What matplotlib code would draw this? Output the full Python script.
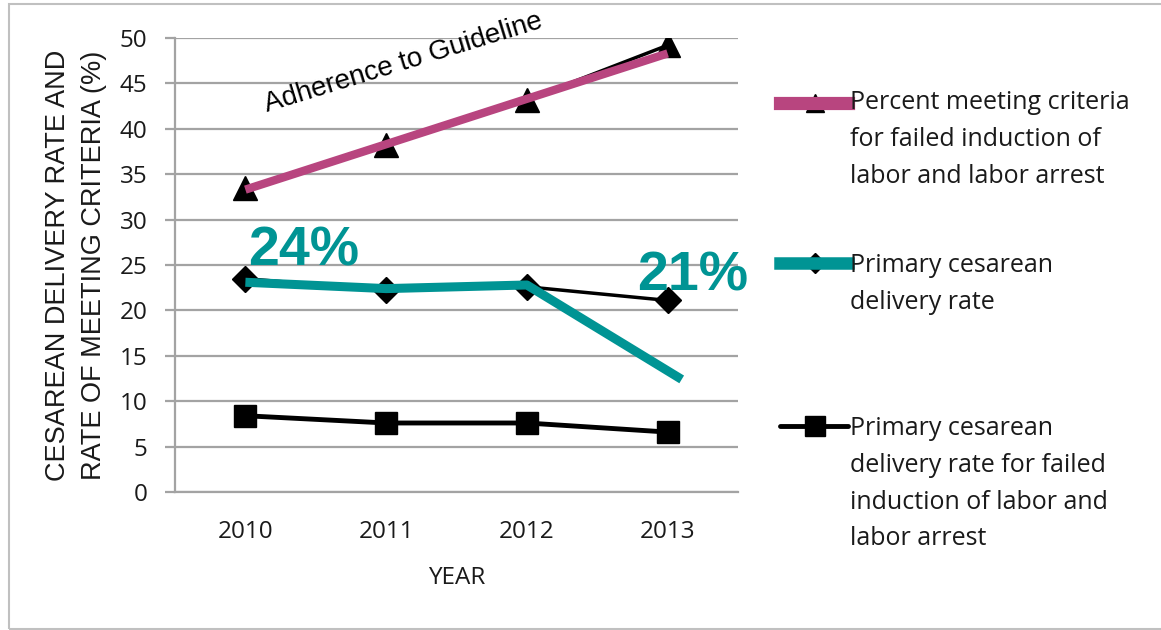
import matplotlib
matplotlib.use('Agg')
import matplotlib.pyplot as plt
from matplotlib.lines import Line2D
from matplotlib.patches import Rectangle

years = ['2010', '2011', '2012', '2013']
pct_meeting = [33.5, 38.2, 43.2, 49.2]
primary_rate = [23.5, 22.2, 22.6, 21.1]
primary_failed = [8.4, 7.6, 7.6, 6.6]

# hand-drawn trend overlays
adherence_x = [0, 3]
adherence_y = [33.3, 48.3]
trend_x = [0, 1, 2, 3.1]
trend_y = [23.1, 22.4, 22.8, 12.4]

legend_labels = ['Percent meeting criteria\nfor failed induction of\nlabor and labor arrest',
                 'Primary cesarean\ndelivery rate',
                 'Primary cesarean\ndelivery rate for failed\ninduction of labor and\nlabor arrest']

MAGENTA = '#b8457f'
TEAL = '#009494'
GRID = '#a3a3a3'
TXT = '#1a1a1a'
BODY = 'Open Sans'
W, H = 1161.0, 630.0

fig = plt.figure(figsize=(11.61, 6.30), dpi=100)
ax = fig.add_axes([175 / W, 1 - 492 / H, (738 - 175) / W, (492 - 38) / H])

x = list(range(len(years)))
ax.plot(x, pct_meeting, color='black', lw=2.5, marker='^', ms=17, zorder=3)
ax.plot(x, primary_rate, color='black', lw=2.5, marker='D', ms=13, zorder=3)
ax.plot(x, primary_failed, color='black', lw=3.5, marker='s', ms=16, zorder=3)
ax.plot(adherence_x, adherence_y, color=MAGENTA, lw=6, solid_capstyle='butt', zorder=4)
ax.plot(trend_x, trend_y, color=TEAL, lw=6.5, solid_capstyle='butt', zorder=4)

ax.text(0.02, 25.0, '24%', color=TEAL, fontsize=40, fontweight='bold',
        family='Liberation Sans', ha='left', va='baseline', zorder=5)
ax.text(2.78, 22.2, '21%', color=TEAL, fontsize=40, fontweight='bold',
        family='Liberation Sans', ha='left', va='baseline', zorder=5)
ax.text(0.154, 41.85, 'Adherence to Guideline', color='black', fontsize=20,
        family='Liberation Sans', rotation=17, rotation_mode='anchor',
        ha='left', va='baseline', zorder=5)

ax.set_xlim(-0.5, 3.5)
ax.set_ylim(0, 50)
ax.set_xticks(x)
ax.set_xticklabels(years)
ax.set_yticks(range(0, 51, 5))
ax.grid(axis='y', color=GRID, lw=1.6)
ax.set_axisbelow(True)
for s in ['top', 'right']:
    ax.spines[s].set_visible(False)
for s in ['left', 'bottom']:
    ax.spines[s].set_color(GRID)
    ax.spines[s].set_linewidth(1.6)
ax.tick_params(axis='y', length=7, width=1.6, color=GRID, pad=13, labelsize=17.5, labelcolor=TXT)
ax.tick_params(axis='x', length=0, pad=20, labelsize=17.5, labelcolor=TXT)
for item in ax.get_xticklabels() + ax.get_yticklabels():
    item.set_family(BODY)

ax.set_xlabel('YEAR', fontsize=17.5, family=BODY, color=TXT, labelpad=16)
ax.set_ylabel('CESAREAN DELIVERY RATE AND\nRATE OF MEETING CRITERIA (%)', fontsize=19.5,
              family='Liberation Sans', color=TXT, linespacing=1.5, labelpad=9)

# legend drawn by hand, entries aligned to their first text line
entries = [
    (103, 90, dict(color=MAGENTA, lw=9.5), dict(marker='^', ms=13, color='black')),
    (263, 253, dict(color=TEAL, lw=9), dict(marker='D', ms=10, color='black')),
    (426, 416, dict(color='black', lw=3.5, solid_capstyle='round'), dict(marker='s', ms=14, color='black')),
]
for (ypix, toppix, lkw, mkw), label in zip(entries, legend_labels):
    yf = 1 - ypix / H
    fig.add_artist(Line2D([815 / W], [yf], transform=fig.transFigure, ls='none', zorder=2, **mkw))
    fig.add_artist(Line2D([780 / W, 848 / W], [yf, yf], transform=fig.transFigure,
                          zorder=3 if lkw['color'] != 'black' else 1, **lkw))
    fig.text(850 / W, 1 - toppix / H, label, fontsize=18, family=BODY, color=TXT,
             ha='left', va='top', linespacing=1.62)

# outer frame
fig.add_artist(Rectangle((9 / W, 1 / H), 1.2, 625 / H, transform=fig.transFigure,
                         fill=False, edgecolor='#c0c0c0', lw=1.5))

plt.savefig('out.png', dpi=100)
